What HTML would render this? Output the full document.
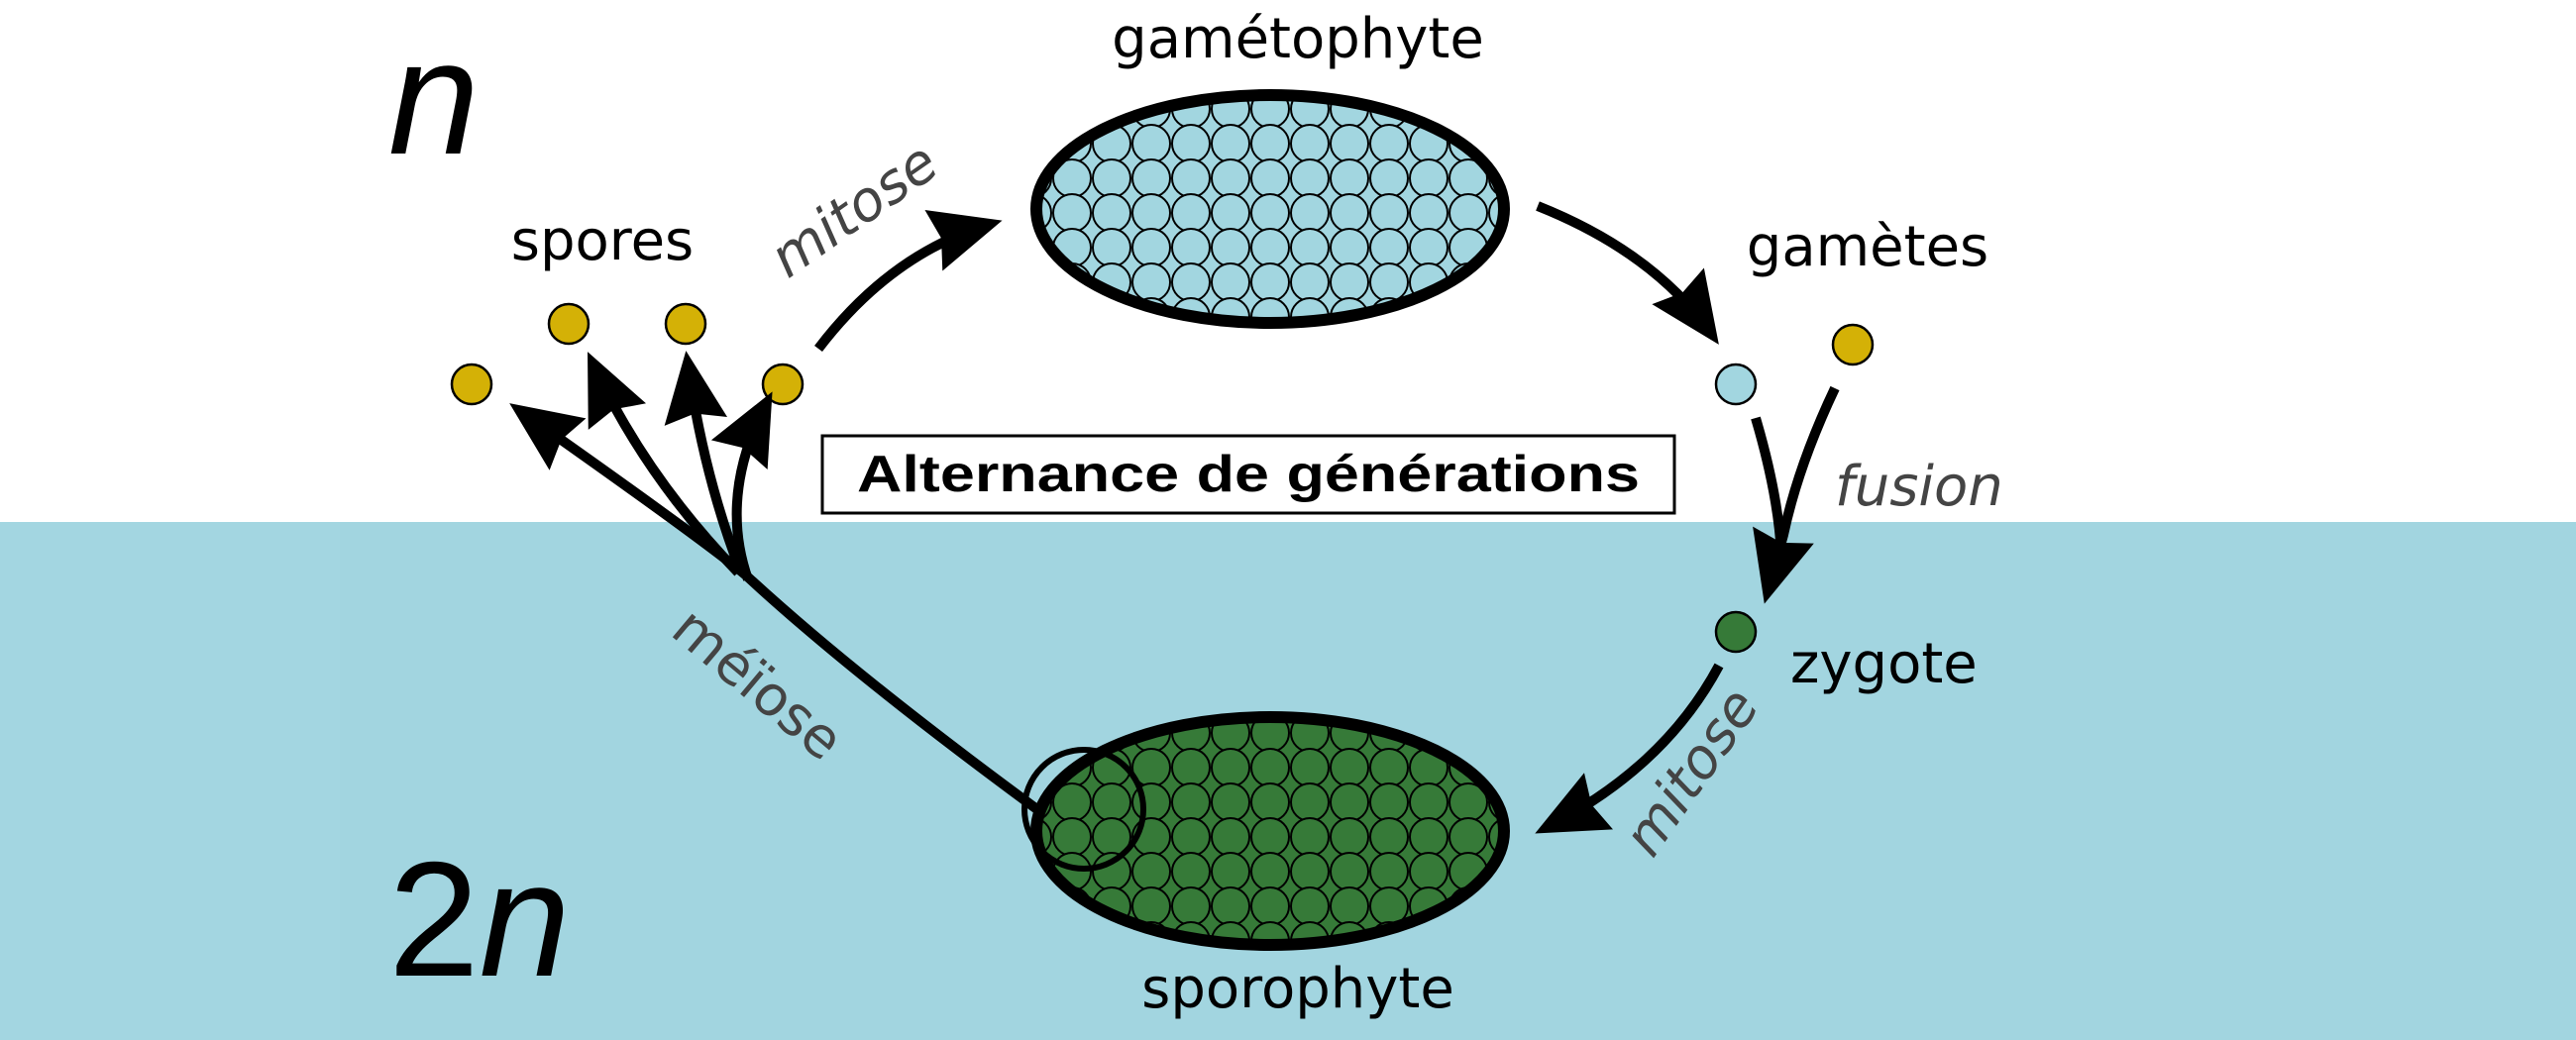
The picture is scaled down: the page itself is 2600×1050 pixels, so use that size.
<!DOCTYPE html>
<html><head><meta charset="utf-8"><style>
html,body{margin:0;padding:0;background:#fff}
svg{display:block}
</style></head><body>
<svg width="2600" height="1050" viewBox="0 0 2600 1050" xmlns="http://www.w3.org/2000/svg">
<defs>
<marker id="ah" markerUnits="userSpaceOnUse" markerWidth="90" markerHeight="90" refX="60" refY="32" orient="auto" overflow="visible">
<path d="M0,0 L72,32 L0,64 L8,32 Z" fill="#000"/>
</marker>
<pattern id="pb" width="40" height="35" patternUnits="userSpaceOnUse" x="2" y="5">
<rect width="40" height="35" fill="#fff"/>
<g fill="#a2d6e0" stroke="#000" stroke-width="2">
<circle cx="20" cy="17.5" r="19"/><circle cx="0" cy="0" r="19"/><circle cx="40" cy="0" r="19"/><circle cx="0" cy="35" r="19"/><circle cx="40" cy="35" r="19"/>
</g></pattern>
<pattern id="pg" width="40" height="35" patternUnits="userSpaceOnUse" x="2" y="5">
<rect width="40" height="35" fill="#a2d6e0"/>
<g fill="#367a38" stroke="#000" stroke-width="2">
<circle cx="20" cy="17.5" r="19"/><circle cx="0" cy="0" r="19"/><circle cx="40" cy="0" r="19"/><circle cx="0" cy="35" r="19"/><circle cx="40" cy="35" r="19"/>
</g></pattern>
</defs>
<rect x="0" y="527" width="2600" height="523" fill="#a2d5e0"/>
<rect x="0" y="527" width="343" height="523" fill="#a3d6e1"/>

<g font-family="'DejaVu Sans',sans-serif" font-size="56">
<text x="392" y="155" font-size="165" font-style="italic" font-family="'Liberation Sans',sans-serif">n</text>
<text x="392" y="985" font-size="165" font-family="'Liberation Sans',sans-serif">2<tspan font-style="italic">n</tspan></text>
<text x="1310" y="58" text-anchor="middle">gamétophyte</text>
<text x="1310" y="1017" text-anchor="middle">sporophyte</text>
<text x="608" y="262" text-anchor="middle">spores</text>
<text x="1885" y="268" text-anchor="middle">gamètes</text>
<text x="1807" y="689">zygote</text>
<text x="1852" y="510" font-style="italic" fill="#444">fusion</text>
<text transform="translate(795,282) rotate(-35)" font-style="italic" fill="#444">mitose</text>
<text transform="translate(1668,868) rotate(-55)" font-style="italic" fill="#444">mitose</text>
<text transform="translate(675,640) rotate(40)" fill="#444">méïose</text>
</g>

<rect x="830" y="440" width="860" height="78" fill="#fff" stroke="#000" stroke-width="3"/>
<text x="1260" y="496" font-size="52" font-weight="bold" text-anchor="middle" font-family="'Liberation Sans',sans-serif" textLength="790" lengthAdjust="spacingAndGlyphs">Alternance de générations</text>

<ellipse cx="1282" cy="211" rx="236" ry="115" fill="url(#pb)" stroke="#000" stroke-width="12"/>
<ellipse cx="1282" cy="839" rx="236" ry="115" fill="url(#pg)" stroke="#000" stroke-width="12"/>
<circle cx="1094" cy="817" r="60" fill="none" stroke="#000" stroke-width="6"/>

<g stroke="#000" stroke-width="2.5">
<circle cx="476" cy="388" r="20" fill="#d4b106"/>
<circle cx="574" cy="327" r="20" fill="#d4b106"/>
<circle cx="692" cy="327" r="20" fill="#d4b106"/>
<circle cx="790" cy="388" r="20" fill="#d4b106"/>
<circle cx="1752" cy="388" r="20" fill="#a2d6e0"/>
<circle cx="1870" cy="348" r="20" fill="#d4b106"/>
<circle cx="1752" cy="638" r="20" fill="#367a38"/>
</g>

<g fill="none" stroke="#000" stroke-width="10" stroke-linecap="butt">
<path d="M826,352 Q900,255 1000,226" marker-end="url(#ah)"/>
<path d="M1552,208 Q1670,255 1728,338" marker-end="url(#ah)"/>
<path d="M1772,422 Q1795,500 1798,560"/>
<path d="M1852,392 Q1815,470 1800,540 L1784,598" marker-end="url(#ah)"/>
<path d="M1735,672 Q1680,775 1560,836" marker-end="url(#ah)"/>
<path d="M1048,818 Q860,680 752,580 Q710,545 524,414" marker-end="url(#ah)"/>
<path d="M745,578 Q650,480 598,366" marker-end="url(#ah)"/>
<path d="M748,578 Q710,480 694,366" marker-end="url(#ah)"/>
<path d="M755,585 Q725,500 774,406" marker-end="url(#ah)"/>
</g>
</svg>
</body></html>
